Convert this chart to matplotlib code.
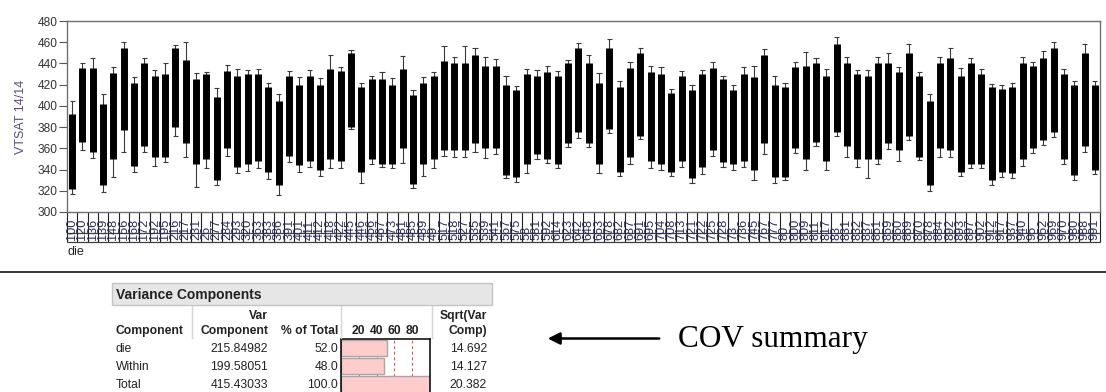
import matplotlib
matplotlib.use('Agg')
import matplotlib.pyplot as plt
import matplotlib.transforms as mtransforms
from matplotlib.patches import Rectangle, FancyArrowPatch
from matplotlib.lines import Line2D
import numpy as np

plt.rcParams['font.family'] = ['Liberation Sans', 'DejaVu Sans']

# ---------------- data ----------------
die_labels = ["100", "120", "136", "139", "148", "156", "168", "172", "192", "195",
              "216", "217", "231", "26", "277", "284",
              "293", "320", "363", "383", "386", "391", "401", "411", "412", "418",
              "422", "445", "446", "456", "467", "473", "481",
              "485", "489", "49", "517", "518", "527", "535", "539", "541", "567",
              "575", "58", "581", "592", "614", "623",
              "642", "648", "653", "678", "682", "687", "691", "695", "704", "708",
              "713", "721", "722", "725", "728", "73", "736",
              "745", "767", "777", "80", "800", "809", "811", "817", "83", "831",
              "832", "837", "851", "859", "860", "869",
              "870", "878", "884", "892", "893", "897", "902", "912", "917", "937",
              "940", "95", "952", "969", "970", "980", "988", "991"]

die_max = [405, 440, 445, 411, 437, 460, 427, 445, 434, 440,
           457, 460, 431, 432, 417, 439, 435, 434, 435, 422,
           411, 433, 427, 434, 426, 448, 437, 453, 422, 428,
           432, 426, 447, 415, 427, 432, 456, 446, 456, 455,
           446, 444, 428, 419, 435, 434, 438, 433, 443, 459,
           448, 431, 463, 423, 441, 455, 438, 437, 416, 433,
           420, 434, 441, 428, 420, 437, 438, 454, 428, 422,
           441, 451, 445, 435, 465, 446, 434, 434, 446, 450,
           437, 458, 432, 411, 446, 455, 436, 445, 435, 421,
           420, 422, 446, 441, 452, 460, 435, 423, 458, 423]

die_min = [317, 358, 351, 319, 333, 357, 338, 357, 343, 347,
           372, 352, 324, 341, 325, 353, 337, 339, 341, 331,
           316, 347, 338, 342, 334, 341, 341, 378, 327, 345,
           342, 341, 346, 323, 334, 341, 353, 352, 352, 357,
           351, 355, 332, 328, 337, 350, 346, 341, 361, 370,
           361, 337, 374, 334, 345, 369, 341, 340, 334, 342,
           327, 336, 353, 342, 340, 342, 330, 355, 327, 330,
           356, 340, 362, 340, 372, 352, 342, 332, 345, 359,
           348, 368, 349, 320, 352, 352, 334, 341, 341, 325,
           333, 332, 343, 356, 363, 371, 345, 330, 357, 336]

band_hi = [392, 436, 436, 402, 431, 455, 422, 440, 428, 430,
           455, 443, 425, 430, 408, 433, 428, 430, 430, 418,
           405, 428, 420, 428, 420, 435, 433, 450, 418, 425,
           425, 420, 435, 410, 422, 428, 442, 440, 440, 448,
           438, 438, 420, 415, 430, 428, 432, 428, 440, 455,
           440, 422, 455, 418, 436, 450, 432, 430, 412, 428,
           415, 430, 436, 425, 415, 430, 427, 448, 420, 418,
           437, 438, 440, 428, 458, 440, 430, 428, 440, 440,
           432, 450, 428, 405, 440, 445, 428, 440, 430, 418,
           416, 418, 440, 438, 445, 455, 430, 420, 450, 420]

band_lo = [322, 366, 357, 325, 350, 377, 343, 362, 352, 352,
           380, 365, 345, 350, 330, 360, 342, 345, 348, 338,
           325, 353, 344, 348, 340, 350, 348, 380, 338, 350,
           345, 345, 360, 326, 345, 350, 358, 358, 358, 365,
           360, 360, 335, 333, 345, 355, 350, 345, 365, 375,
           365, 345, 378, 338, 352, 372, 348, 345, 338, 348,
           332, 342, 358, 347, 345, 348, 340, 365, 333, 333,
           360, 350, 366, 348, 375, 362, 350, 350, 350, 365,
           358, 372, 352, 325, 360, 358, 338, 345, 345, 330,
           338, 337, 350, 360, 368, 375, 350, 335, 362, 340]

y_ticks = [300, 320, 340, 360, 380, 400, 420, 440, 460, 480]
y_label = "VTSAT 14/14"
x_label = "die"

vc_title = "Variance Components"
vc_components = ["die", "Within", "Total"]
vc_var = ["215.84982", "199.58051", "415.43033"]
vc_pct = [52.0, 48.0, 100.0]
vc_sqrt = ["14.692", "14.127", "20.382"]
bar_ticks = [20, 40, 60, 80]

# ---------------- figure ----------------
W, H = 1106, 392
fig = plt.figure(figsize=(W / 100, H / 100), dpi=100)


def fx(x):
    return x / W


def fy(y):
    return 1 - y / H


ax = fig.add_axes([fx(67), fy(212), fx(1100) - fx(67), fy(21) - fy(212)])
n = len(die_labels)
xs = np.arange(n) + 0.5
wcol = '#3a3a3a'
ax.vlines(xs, die_min, die_max, color=wcol, lw=0.8, zorder=2)
ax.hlines(die_max, xs - 0.25, xs + 0.25, color=wcol, lw=0.8, zorder=2)
ax.hlines(die_min, xs - 0.25, xs + 0.25, color=wcol, lw=0.8, zorder=2)
ax.vlines(xs, band_lo, band_hi, color='black', lw=5, zorder=3)

ax.set_xlim(0, n)
ax.set_ylim(300, 480)
ax.set_yticks(y_ticks)
ax.set_xticks([])
ax.tick_params(axis='y', length=6, width=0.8, color='#555555', pad=1,
               labelsize=8.6, labelcolor='#333333')
for s in ax.spines.values():
    s.set_color('#707070')
    s.set_linewidth(1.0)

fig.text(fx(21), fy(117), y_label, rotation=90, ha='center', va='center',
         fontsize=9, color='#5a4a82')

# x label table
trans = mtransforms.blended_transform_factory(ax.transData, ax.transAxes)
y_mid = -21 / 191
y_bot = -30 / 191
ax.vlines(np.arange(n + 1), y_bot, 0, transform=trans, color='#202020',
          lw=0.8, clip_on=False)
ax.hlines([y_mid, y_bot], 0, n, transform=trans, color='#404040', lw=0.9,
          clip_on=False)
for xi, lab in zip(xs, die_labels):
    ax.text(xi, -28 / 191, lab, transform=trans, rotation=90, ha='center',
            va='bottom', fontsize=9.2, color='#2c2c5e', clip_on=False)

fig.text(fx(68), fy(252), x_label, ha='left', va='center', fontsize=9,
         color='#222222')

# separator line
fig.add_artist(Line2D([0, 1], [fy(272), fy(272)], transform=fig.transFigure,
                      color='black', lw=1.1))

# ---------------- variance components table ----------------
fig.add_artist(Rectangle((fx(112), fy(305)), fx(492) - fx(112), fy(283) - fy(305),
                         transform=fig.transFigure, facecolor='#e6e6e6',
                         edgecolor='#c4c4c4', lw=1))
fig.text(fx(116), fy(294.5), vc_title, ha='left', va='center', fontsize=10,
         fontweight='bold', color='#222222')

for xv in [191.7, 340.7, 431.7]:
    fig.add_artist(Line2D([fx(xv), fx(xv)], [fy(306), fy(338)],
                          transform=fig.transFigure, color='#d6d6d6', lw=1))

hs = dict(fontsize=8.7, fontweight='bold', color='#222222', va='center')
fig.text(fx(268), fy(316), "Var", ha='right', **hs)
fig.text(fx(268), fy(331), "Component", ha='right', **hs)
fig.text(fx(116), fy(331), "Component", ha='left', **hs)
fig.text(fx(338), fy(331), "% of Total", ha='right', **hs)
fig.text(fx(487), fy(316), "Sqrt(Var", ha='right', **hs)
fig.text(fx(487), fy(331), "Comp)", ha='right', **hs)

box_l, box_r = 340.7, 430.3
for t in bar_ticks:
    fig.text(fx(box_l + (box_r - box_l) * t / 100), fy(331), str(t),
             ha='center', **hs)

rs = dict(fontsize=8.7, color='#222222', va='center')
row_y = [349.5, 367.5, 385.5]
for ry, c, v, p, s in zip(row_y, vc_components, vc_var, vc_pct, vc_sqrt):
    fig.text(fx(116), fy(ry), c, ha='left', **rs)
    fig.text(fx(268), fy(ry), v, ha='right', **rs)
    fig.text(fx(338), fy(ry), f"{p:.1f}", ha='right', **rs)
    fig.text(fx(487), fy(ry), s, ha='right', **rs)

bax = fig.add_axes([fx(box_l), fy(398), fx(box_r) - fx(box_l), fy(339) - fy(398)])
bax.set_xlim(0, 100)
bax.set_ylim(398, 339)
for t in bar_ticks:
    bax.axvline(t, color='#e05050', lw=0.8, ls=(0, (2.5, 2.5)), zorder=1)
bar_y = [348, 366, 386]
bar_h = [16, 16, 20]
bax.barh(bar_y, vc_pct, height=bar_h, color='#ffcccc', edgecolor='#a8a8a8',
         lw=1, zorder=2)
bax.set_xticks([])
bax.set_yticks([])
for s in bax.spines.values():
    s.set_color('black')
    s.set_linewidth(1.1)

# arrow + annotation
fig.add_artist(FancyArrowPatch((fx(662), fy(338.5)), (fx(545), fy(338.5)),
                               transform=fig.transFigure, arrowstyle='-|>',
                               mutation_scale=18, color='black', lw=1.8))
fig.text(fx(678), fy(346.5), "COV summary", ha='left', va='baseline',
         fontsize=22.5, family=['Liberation Serif', 'DejaVu Serif'],
         color='black')

fig.savefig('out.png', dpi=100)
